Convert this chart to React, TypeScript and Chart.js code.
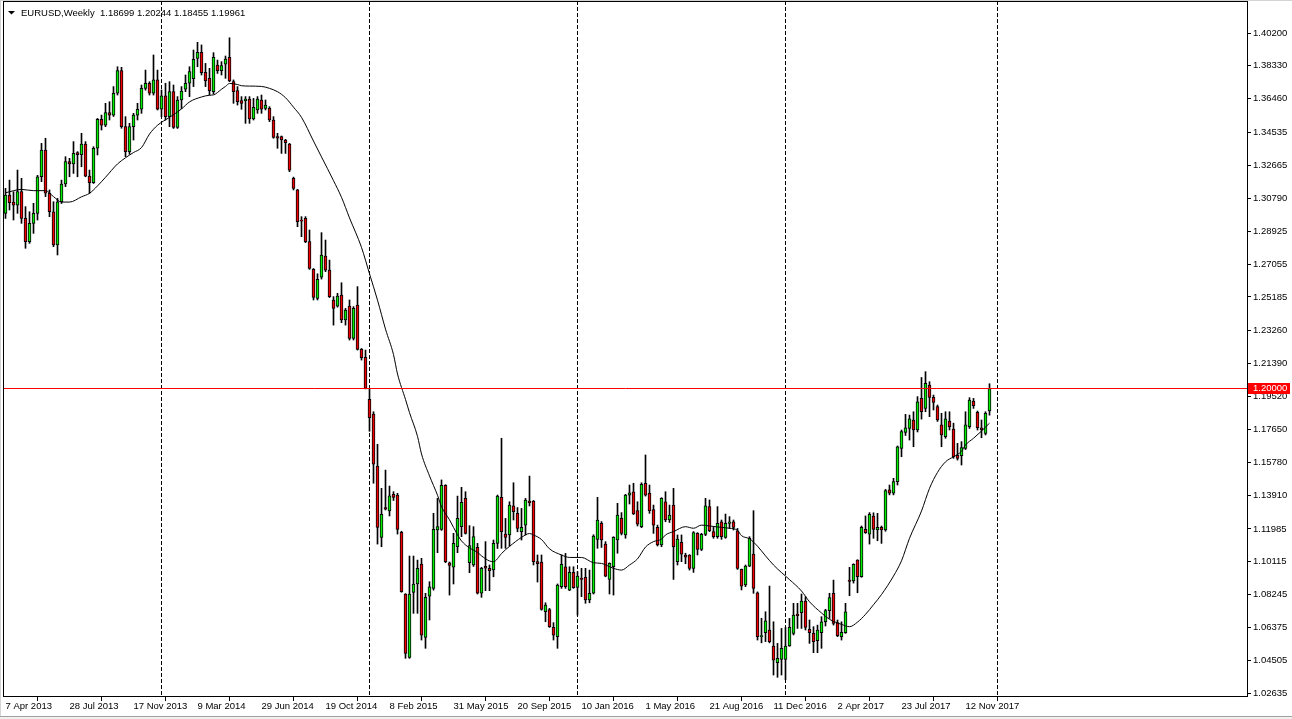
import React, { useEffect, useRef } from 'react';
import { Chart, registerables } from 'chart.js';

Chart.register(...registerables);

const symbol = 'EURUSD';
const timeframe = 'Weekly';

// Weekly candles, week 0 = 7 Apr 2013
const opens = [
  1.2994, 1.3098, 1.3058, 1.3041, 1.3117, 1.2965, 1.2833, 1.2937, 1.2994, 1.3202,
  1.3354, 1.3108, 1.3003, 1.2814, 1.3060, 1.3161, 1.3288, 1.3275, 1.3339, 1.3328,
  1.3388, 1.3206, 1.3168, 1.3364, 1.3529, 1.3496, 1.3567, 1.3553, 1.3677, 1.3806,
  1.3487, 1.3345, 1.3487, 1.3553, 1.3586, 1.3705, 1.3734, 1.3677, 1.3753, 1.3586,
  1.3662, 1.3544, 1.3686, 1.3483, 1.3639, 1.3700, 1.3734, 1.3760, 1.3876, 1.3910,
  1.3796, 1.3762, 1.3686, 1.3838, 1.3806, 1.3842, 1.3882, 1.3743, 1.3692, 1.3635,
  1.3635, 1.3644, 1.3531, 1.3582, 1.3639, 1.3591, 1.3591, 1.3525, 1.3430, 1.3430,
  1.3411, 1.3388, 1.3193, 1.3127, 1.2952, 1.2965, 1.2833, 1.2675, 1.2510, 1.2630,
  1.2751, 1.2671, 1.2501, 1.2466, 1.2529, 1.2387, 1.2466, 1.2282, 1.2472, 1.2220,
  1.2174, 1.1935, 1.1852, 1.1556, 1.1150, 1.1319, 1.1300, 1.1395, 1.1391, 1.1179,
  1.0828, 1.0467, 1.0837, 1.0885, 1.0998, 1.0581, 1.0816, 1.0860, 1.1192, 1.1196,
  1.1446, 1.1006, 1.0980, 1.1097, 1.1211, 1.1372, 1.1006, 1.0993, 1.1093, 1.0832,
  1.0985, 1.0974, 1.0965, 1.1116, 1.1378, 1.1169, 1.1164, 1.1329, 1.1287, 1.1182,
  1.1220, 1.1357, 1.1357, 1.1012, 1.1010, 1.0727, 1.0740, 1.0638, 1.0585, 1.0870,
  1.0983, 1.0850, 1.0951, 1.0866, 1.0917, 1.0923, 1.0794, 1.0832, 1.1139, 1.1230,
  1.1112, 1.0911, 1.0983, 1.1135, 1.1258, 1.1164, 1.1391, 1.1410, 1.1302, 1.1211,
  1.1458, 1.1401, 1.1309, 1.1207, 1.1107, 1.1353, 1.1249, 1.1334, 1.1012, 1.1122,
  1.1050, 1.1050, 1.0974, 1.1173, 1.1082, 1.1167, 1.1325, 1.1183, 1.1154, 1.1239,
  1.1150, 1.1230, 1.1239, 1.1188, 1.0968, 1.0879, 1.0987, 1.1055, 1.0835, 1.0585,
  1.0608, 1.0623, 1.0532, 1.0437, 1.0456, 1.0456, 1.0532, 1.0604, 1.0714, 1.0722,
  1.0788, 1.0627, 1.0604, 1.0562, 1.0608, 1.0670, 1.0733, 1.0832, 1.0665, 1.0585,
  1.0608, 1.0907, 1.0902, 1.1021, 1.0927, 1.1196, 1.1169, 1.1272, 1.1192, 1.1207,
  1.1192, 1.1420, 1.1401, 1.1467, 1.1657, 1.1748, 1.1770, 1.1818, 1.1761, 1.1941,
  1.1884, 1.2017, 1.1947, 1.1894, 1.1790, 1.1723, 1.1812, 1.1767, 1.1617, 1.1615,
  1.1657, 1.1780, 1.1926, 1.1862, 1.1774, 1.1742, 1.18699,
];

const highs = [
  1.3136, 1.3183, 1.3117, 1.3240, 1.3193, 1.3032, 1.3003, 1.3051, 1.3210, 1.3392,
  1.3421, 1.3127, 1.3060, 1.3079, 1.3183, 1.3316, 1.3307, 1.3402, 1.3345, 1.3449,
  1.3402, 1.3240, 1.3373, 1.3534, 1.3553, 1.3620, 1.3629, 1.3715, 1.3828, 1.3825,
  1.3544, 1.3506, 1.3563, 1.3620, 1.3724, 1.3809, 1.3743, 1.3895, 1.3809, 1.3696,
  1.3734, 1.3743, 1.3724, 1.3658, 1.3715, 1.3781, 1.3828, 1.3923, 1.3967, 1.3952,
  1.3847, 1.3819, 1.3908, 1.3866, 1.3857, 1.3889, 1.3993, 1.3753, 1.3715, 1.3658,
  1.3658, 1.3658, 1.3648, 1.3658, 1.3667, 1.3639, 1.3601, 1.3544, 1.3449, 1.3434,
  1.3415, 1.3392, 1.3200, 1.3130, 1.2975, 1.2975, 1.2899, 1.2680, 1.2650, 1.2884,
  1.2842, 1.2728, 1.2520, 1.2539, 1.2599, 1.2453, 1.2501, 1.2463, 1.2577, 1.2225,
  1.2216, 1.1998, 1.1865, 1.1680, 1.1429, 1.1533, 1.1442, 1.1410, 1.1401, 1.1185,
  1.0830, 1.1044, 1.1044, 1.1021, 1.1031, 1.0832, 1.0898, 1.1287, 1.1372, 1.1477,
  1.1450, 1.1010, 1.1173, 1.1385, 1.1435, 1.1410, 1.1217, 1.1211, 1.1116, 1.0980,
  1.1126, 1.0993, 1.1135, 1.1391, 1.1714, 1.1258, 1.1353, 1.1461, 1.1320, 1.1315,
  1.1372, 1.1499, 1.1360, 1.1050, 1.1050, 1.0778, 1.0746, 1.0665, 1.0885, 1.1050,
  1.1059, 1.0983, 1.0983, 1.0955, 1.0974, 1.0974, 1.0964, 1.1165, 1.1378, 1.1240,
  1.1126, 1.1005, 1.1154, 1.1344, 1.1291, 1.1395, 1.1448, 1.1458, 1.1353, 1.1461,
  1.1619, 1.1448, 1.1334, 1.1220, 1.1376, 1.1410, 1.1334, 1.1429, 1.1164, 1.1164,
  1.1060, 1.1052, 1.1183, 1.1177, 1.1173, 1.1372, 1.1363, 1.1207, 1.1325, 1.1249,
  1.1283, 1.1268, 1.1249, 1.1201, 1.0970, 1.0993, 1.1154, 1.1302, 1.0840, 1.0690,
  1.0727, 1.0873, 1.0670, 1.0547, 1.0632, 1.0638, 1.0689, 1.0775, 1.0775, 1.0828,
  1.0813, 1.0680, 1.0642, 1.0651, 1.0699, 1.0741, 1.0832, 1.0907, 1.0680, 1.0670,
  1.0775, 1.0980, 1.1000, 1.1023, 1.1215, 1.1272, 1.1291, 1.1290, 1.1287, 1.1215,
  1.1423, 1.1448, 1.1486, 1.1670, 1.1761, 1.1850, 1.1846, 1.1865, 1.1951, 1.2060,
  1.2093, 1.2036, 1.1960, 1.1903, 1.1856, 1.1865, 1.1865, 1.1800, 1.1685, 1.1695,
  1.1865, 1.1945, 1.1941, 1.1869, 1.1818, 1.1865, 1.20244,
];

const lows = [
  1.2965, 1.3013, 1.2956, 1.2994, 1.2937, 1.2795, 1.2823, 1.2880, 1.2956, 1.3174,
  1.3089, 1.2975, 1.2804, 1.2757, 1.3050, 1.3146, 1.3202, 1.3221, 1.3202, 1.3259,
  1.3202, 1.3108, 1.3164, 1.3326, 1.3468, 1.3487, 1.3525, 1.3545, 1.3667, 1.3478,
  1.3316, 1.3330, 1.3411, 1.3525, 1.3563, 1.3695, 1.3667, 1.3667, 1.3582, 1.3544,
  1.3525, 1.3487, 1.3477, 1.3477, 1.3590, 1.3686, 1.3658, 1.3715, 1.3828, 1.3781,
  1.3715, 1.3667, 1.3673, 1.3790, 1.3781, 1.3762, 1.3743, 1.3620, 1.3610, 1.3586,
  1.3506, 1.3506, 1.3525, 1.3563, 1.3563, 1.3582, 1.3516, 1.3421, 1.3364, 1.3335,
  1.3335, 1.3231, 1.3127, 1.2918, 1.2861, 1.2827, 1.2675, 1.2501, 1.2501, 1.2620,
  1.2662, 1.2515, 1.2358, 1.2460, 1.2372, 1.2358, 1.2273, 1.2273, 1.2216, 1.2159,
  1.1995, 1.1754, 1.1458, 1.1112, 1.1097, 1.1306, 1.1272, 1.1360, 1.1169, 1.0838,
  1.0462, 1.0462, 1.0718, 1.0718, 1.0566, 1.0519, 1.0680, 1.0850, 1.1063, 1.1190,
  1.1006, 1.0822, 1.0885, 1.1063, 1.1154, 1.1169, 1.0949, 1.0985, 1.0828, 1.0809,
  1.0847, 1.0847, 1.0926, 1.1087, 1.1088, 1.1088, 1.1100, 1.1249, 1.1182, 1.1135,
  1.1164, 1.1329, 1.0993, 1.0896, 1.0736, 1.0670, 1.0638, 1.0566, 1.0519, 1.0860,
  1.0860, 1.0847, 1.0860, 1.0708, 1.0813, 1.0775, 1.0778, 1.0828, 1.1088, 1.1093,
  1.0926, 1.0828, 1.0822, 1.1060, 1.1164, 1.1145, 1.1340, 1.1280, 1.1215, 1.1205,
  1.1385, 1.1287, 1.1173, 1.1101, 1.1097, 1.1239, 1.1235, 1.0911, 1.0993, 1.1012,
  1.1000, 1.0964, 1.0951, 1.1050, 1.1075, 1.1160, 1.1183, 1.1145, 1.1145, 1.1139,
  1.1145, 1.1201, 1.1192, 1.0968, 1.0851, 1.0870, 1.0984, 1.0832, 1.0566, 1.0550,
  1.0557, 1.0550, 1.0367, 1.0354, 1.0367, 1.0340, 1.0530, 1.0595, 1.0632, 1.0632,
  1.0623, 1.0547, 1.0494, 1.0494, 1.0519, 1.0646, 1.0689, 1.0651, 1.0585, 1.0566,
  1.0604, 1.0818, 1.0890, 1.0835, 1.0923, 1.1173, 1.1112, 1.1145, 1.1131, 1.1116,
  1.1185, 1.1392, 1.1392, 1.1448, 1.1609, 1.1730, 1.1704, 1.1666, 1.1750, 1.1823,
  1.1865, 1.1837, 1.1875, 1.1810, 1.1666, 1.1714, 1.1761, 1.1600, 1.1590, 1.1562,
  1.1650, 1.1770, 1.1884, 1.1761, 1.1717, 1.1733, 1.18455,
];

const closes = [
  1.3098, 1.3054, 1.3041, 1.3117, 1.2965, 1.2833, 1.2937, 1.2994, 1.3202, 1.3354,
  1.3108, 1.3003, 1.2814, 1.3060, 1.3161, 1.3288, 1.3275, 1.3335, 1.3328, 1.3388,
  1.3206, 1.3168, 1.3364, 1.3529, 1.3496, 1.3567, 1.3553, 1.3677, 1.3806, 1.3487,
  1.3345, 1.3487, 1.3553, 1.3586, 1.3705, 1.3734, 1.3677, 1.3753, 1.3586, 1.3662,
  1.3544, 1.3686, 1.3483, 1.3639, 1.3690, 1.3734, 1.3800, 1.3870, 1.3910, 1.3794,
  1.3747, 1.3692, 1.3882, 1.3806, 1.3834, 1.3872, 1.3747, 1.3686, 1.3629, 1.3620,
  1.3644, 1.3531, 1.3597, 1.3644, 1.3586, 1.3610, 1.3525, 1.3426, 1.3421, 1.3411,
  1.3396, 1.3240, 1.3136, 1.2946, 1.2950, 1.2833, 1.2681, 1.2516, 1.2618, 1.2757,
  1.2671, 1.2520, 1.2453, 1.2523, 1.2387, 1.2444, 1.2282, 1.2453, 1.2220, 1.2172,
  1.1998, 1.1831, 1.1566, 1.1207, 1.1281, 1.1310, 1.1387, 1.1378, 1.1196, 1.0841,
  1.0490, 1.0828, 1.0885, 1.0974, 1.0594, 1.0809, 1.0869, 1.1196, 1.1211, 1.1446,
  1.1012, 1.0991, 1.1116, 1.1258, 1.1349, 1.1173, 1.1103, 1.1154, 1.0832, 1.0974,
  1.0975, 1.0961, 1.1116, 1.1385, 1.1182, 1.1150, 1.1334, 1.1296, 1.1201, 1.1207,
  1.1363, 1.1348, 1.1012, 1.1000, 1.0740, 1.0765, 1.0642, 1.0594, 1.0879, 1.0997,
  1.0869, 1.0951, 1.0864, 1.0930, 1.0911, 1.0794, 1.0832, 1.1158, 1.1249, 1.1135,
  1.0930, 1.1002, 1.1150, 1.1277, 1.1173, 1.1391, 1.1404, 1.1283, 1.1226, 1.1452,
  1.1391, 1.1302, 1.1220, 1.1107, 1.1372, 1.1249, 1.1277, 1.1097, 1.1141, 1.1055,
  1.1037, 1.0974, 1.1177, 1.1082, 1.1167, 1.1329, 1.1188, 1.1154, 1.1230, 1.1154,
  1.1230, 1.1239, 1.1207, 1.0974, 1.0873, 1.0987, 1.1145, 1.0860, 1.0585, 1.0590,
  1.0676, 1.0557, 1.0452, 1.0462, 1.0519, 1.0532, 1.0638, 1.0708, 1.0705, 1.0788,
  1.0638, 1.0608, 1.0557, 1.0623, 1.0670, 1.0733, 1.0807, 1.0661, 1.0591, 1.0610,
  1.0727, 1.0900, 1.0997, 1.0927, 1.1207, 1.1177, 1.1281, 1.1196, 1.1207, 1.1192,
  1.1416, 1.1401, 1.1467, 1.1666, 1.1752, 1.1774, 1.1824, 1.1761, 1.1922, 1.1865,
  1.2027, 1.1947, 1.1918, 1.1818, 1.1733, 1.1824, 1.1780, 1.1609, 1.1600, 1.1661,
  1.1790, 1.1932, 1.1900, 1.1774, 1.1761, 1.1856, 1.19961,
];

// Moving average line (week index -> value)
const maWeeks = [
  0, 4, 7, 10, 12, 14, 16, 19, 21, 23,
  25, 28, 30, 32, 34, 36, 38, 41, 44, 46,
  49, 51, 52, 54, 55, 56, 58, 59, 61, 64,
  66, 68, 70, 72, 74, 77, 79, 82, 84, 86,
  89, 91, 93, 95, 97, 98, 100, 101, 103, 104,
  106, 108, 109, 111, 113, 114, 116, 118, 119, 121,
  122, 124, 125, 126, 129, 131, 132, 134, 136, 139,
  141, 144, 147, 149, 152, 154, 156, 158, 160, 162,
  164, 165, 167, 170, 172, 174, 176, 179, 181, 183,
  184, 186, 188, 190, 192, 194, 196, 199, 201, 204,
  206, 209, 211, 213, 215, 217, 219, 222, 224, 226,
  229, 231, 233, 235, 237, 239, 240, 242, 244, 246,
];
const maValues = [
  1.3111, 1.3130, 1.3123, 1.3123, 1.3089, 1.3058, 1.3058, 1.3088, 1.3108, 1.3150,
  1.3199, 1.3275, 1.3310, 1.3340, 1.3368, 1.3445, 1.3495, 1.3540, 1.3588, 1.3628,
  1.3656, 1.3666, 1.3668, 1.3700, 1.3716, 1.3733, 1.3727, 1.3720, 1.3718, 1.3716,
  1.3705, 1.3686, 1.3652, 1.3598, 1.3540, 1.3405, 1.3315, 1.3180, 1.3085, 1.2968,
  1.2800, 1.2650, 1.2500, 1.2335, 1.2190, 1.2080, 1.1935, 1.1860, 1.1725, 1.1625,
  1.1500, 1.1390, 1.1325, 1.1250, 1.1165, 1.1130, 1.1090, 1.1065, 1.1045, 1.1016,
  1.1012, 1.1058, 1.1080, 1.1099, 1.1150, 1.1172, 1.1164, 1.1138, 1.1085, 1.1050,
  1.1036, 1.1036, 1.1006, 1.1002, 1.0974, 1.0964, 1.0993, 1.1028, 1.1095, 1.1126,
  1.1140, 1.1164, 1.1183, 1.1211, 1.1202, 1.1220, 1.1215, 1.1207, 1.1202, 1.1190,
  1.1160, 1.1142, 1.1100, 1.1045, 1.0993, 1.0950, 1.0910, 1.0845, 1.0784, 1.0720,
  1.0684, 1.0655, 1.0642, 1.0668, 1.0712, 1.0767, 1.0825, 1.0930, 1.1017, 1.1145,
  1.1300, 1.1429, 1.1520, 1.1580, 1.1609, 1.1640, 1.1676, 1.1714, 1.1755, 1.1800,
];

const xTickLabels = [
  '7 Apr 2013', '28 Jul 2013', '17 Nov 2013', '9 Mar 2014', '29 Jun 2014', '19 Oct 2014',
  '8 Feb 2015', '31 May 2015', '20 Sep 2015', '10 Jan 2016', '1 May 2016', '21 Aug 2016',
  '11 Dec 2016', '2 Apr 2017', '23 Jul 2017', '12 Nov 2017',
];
const xTickStep = 16;

const yTickValues = [
  1.402, 1.3833, 1.3646, 1.34535, 1.32665, 1.3079, 1.28925, 1.27055, 1.25185, 1.2326,
  1.2139, 1.1952, 1.1765, 1.1578, 1.1391, 1.11985, 1.10115, 1.08245, 1.06375, 1.04505, 1.02635,
];

// First weekly bar of each new year (period separators)
const yearStartWeeks = [39, 91, 143, 195, 248];

const levelPrice = 1.2;

const X_MIN = -0.625;
const X_MAX = 310.625;
const Y_MIN = 1.02419;
const Y_MAX = 1.42021;

const FONT = "Tahoma, 'Liberation Sans', Arial, sans-serif";
const BULL = '#00ee00';
const BEAR = '#ee0000';

export default function App() {
  const ref = useRef<HTMLCanvasElement>(null);

  useEffect(() => {
    document.body.style.margin = '0';
    const canvas = ref.current;
    if (!canvas) return;

    const wickData = lows.map((l, i) => ({ x: i, y: [l, highs[i]] }));
    const bodyData = opens.map((o, i) => ({
      x: i,
      y: [Math.min(o, closes[i]), Math.max(o, closes[i])],
    }));
    const bodyColors = opens.map((o, i) => (closes[i] >= o ? BULL : BEAR));
    const maData = maWeeks.map((w, k) => ({ x: w, y: maValues[k] }));

    const last = opens.length - 1;
    const headerNums = [opens[last], highs[last], lows[last], closes[last]]
      .map((v) => v.toFixed(5))
      .join(' ');

    const decorPlugin = {
      id: 'mt4decor',
      beforeDraw(chart: any) {
        const ctx = chart.ctx;
        ctx.save();
        ctx.fillStyle = '#ffffff';
        ctx.fillRect(0, 0, chart.width, chart.height);
        ctx.fillStyle = '#d4d4d4';
        ctx.fillRect(0, 0, chart.width, 1);
        ctx.fillRect(0, 0, 1, chart.height);
        ctx.fillStyle = '#a0a0a0';
        ctx.fillRect(0, chart.height - 3, chart.width, 1);
        ctx.fillStyle = '#f0f0f0';
        ctx.fillRect(0, chart.height - 2, chart.width, 2);
        ctx.restore();
      },
      beforeDatasetsDraw(chart: any) {
        const { ctx, chartArea } = chart;
        const xs = chart.scales.x;
        ctx.save();
        ctx.strokeStyle = '#000000';
        ctx.lineWidth = 1;
        ctx.setLineDash([4, 2]);
        yearStartWeeks.forEach((w) => {
          const px = Math.floor(xs.getPixelForValue(w)) + 0.5;
          ctx.beginPath();
          ctx.moveTo(px, chartArea.top);
          ctx.lineTo(px, chartArea.bottom);
          ctx.stroke();
        });
        ctx.restore();
      },
      afterDatasetsDraw(chart: any) {
        const { ctx, chartArea } = chart;
        const ys = chart.scales.y;
        ctx.save();
        const py = Math.floor(ys.getPixelForValue(levelPrice)) + 0.5;
        ctx.strokeStyle = '#ff0000';
        ctx.lineWidth = 1;
        ctx.beginPath();
        ctx.moveTo(chartArea.left, py);
        ctx.lineTo(chartArea.right, py);
        ctx.stroke();
        ctx.fillStyle = '#000000';
        ctx.beginPath();
        ctx.moveTo(8, 11);
        ctx.lineTo(15, 11);
        ctx.lineTo(11.5, 14.5);
        ctx.closePath();
        ctx.fill();
        ctx.font = `9.5px ${FONT}`;
        ctx.textBaseline = 'alphabetic';
        ctx.textAlign = 'left';
        ctx.fillText(`${symbol},${timeframe}  ${headerNums}`, 21, 16);
        ctx.restore();
      },
      afterDraw(chart: any) {
        const { ctx, chartArea } = chart;
        const ys = chart.scales.y;
        ctx.save();
        ctx.strokeStyle = '#000000';
        ctx.lineWidth = 1;
        ctx.strokeRect(
          chartArea.left + 0.5,
          chartArea.top + 0.5,
          chartArea.right - chartArea.left - 1,
          chartArea.bottom - chartArea.top - 1
        );
        const py = Math.floor(ys.getPixelForValue(levelPrice));
        ctx.fillStyle = '#ff0000';
        ctx.fillRect(chartArea.right, py - 5, 42, 11);
        ctx.fillStyle = '#ffffff';
        ctx.font = `9.5px ${FONT}`;
        ctx.textBaseline = 'middle';
        ctx.textAlign = 'left';
        ctx.fillText(levelPrice.toFixed(5), chartArea.right + 5, py + 0.5);
        ctx.restore();
      },
    };

    const chart = new Chart(canvas, {
      type: 'bar',
      data: {
        datasets: [
          {
            type: 'line',
            data: maData as any,
            borderColor: '#000000',
            borderWidth: 1,
            pointRadius: 0,
            cubicInterpolationMode: 'monotone',
            fill: false,
            order: 0,
          } as any,
          {
            type: 'bar',
            data: bodyData as any,
            backgroundColor: bodyColors,
            borderColor: '#000000',
            borderWidth: 1,
            borderSkipped: false,
            barThickness: 3,
            minBarLength: 1,
            grouped: false,
            order: 1,
          } as any,
          {
            type: 'bar',
            data: wickData as any,
            backgroundColor: '#000000',
            borderWidth: 0,
            barThickness: 1,
            grouped: false,
            order: 2,
          } as any,
        ],
      },
      options: {
        responsive: false,
        animation: false,
        devicePixelRatio: 1,
        events: [],
        layout: { padding: { left: 3, top: 1, right: 0, bottom: 0 } },
        plugins: {
          legend: { display: false },
          tooltip: { enabled: false },
          title: { display: false },
        },
        scales: {
          x: {
            type: 'linear',
            min: X_MIN,
            max: X_MAX,
            offset: false,
            afterBuildTicks: (s: any) => {
              s.ticks = xTickLabels.map((_, k) => ({ value: k * xTickStep }));
            },
            afterFit: (s: any) => {
              s.height = 22;
              s.paddingLeft = 0;
              s.paddingRight = 0;
            },
            ticks: {
              autoSkip: false,
              maxRotation: 0,
              minRotation: 0,
              align: 'start',
              padding: 0,
              color: '#000000',
              font: { family: FONT, size: 9.5 },
              callback: (v: any) => xTickLabels[Math.round(Number(v) / xTickStep)] ?? '',
            },
            grid: {
              display: true,
              drawOnChartArea: false,
              drawTicks: true,
              tickLength: 4,
              color: '#000000',
              lineWidth: 1,
            },
            border: { display: false },
          },
          y: {
            type: 'linear',
            position: 'right',
            min: Y_MIN,
            max: Y_MAX,
            beginAtZero: false,
            afterBuildTicks: (s: any) => {
              s.ticks = yTickValues.map((v) => ({ value: v }));
            },
            afterFit: (s: any) => {
              s.width = 44;
              s.paddingTop = 0;
              s.paddingBottom = 0;
            },
            ticks: {
              autoSkip: false,
              padding: 2,
              color: '#000000',
              font: { family: FONT, size: 9.5 },
              callback: (v: any) => Number(v).toFixed(5),
            },
            grid: {
              display: true,
              drawOnChartArea: false,
              drawTicks: true,
              tickLength: 3,
              color: '#000000',
              lineWidth: 1,
            },
            border: { display: false },
          },
        },
      } as any,
      plugins: [decorPlugin],
    });

    return () => {
      chart.destroy();
    };
  }, []);

  return (
    <canvas
      ref={ref}
      width={1292}
      height={719}
      style={{ position: 'fixed', left: 0, top: 0, display: 'block' }}
    />
  );
}
